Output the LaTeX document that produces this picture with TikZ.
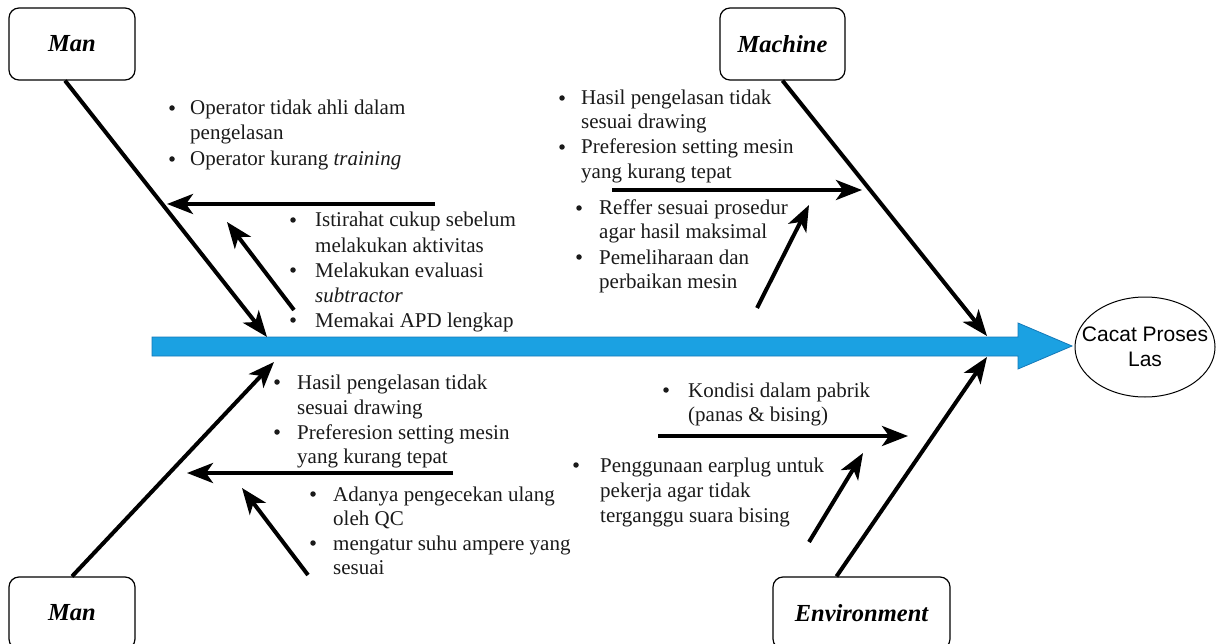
\documentclass[tikz,border=0pt]{standalone}
\usepackage{fontspec}
\setmainfont{Liberation Serif}
\newfontfamily\arialfont{Liberation Sans}
\usetikzlibrary{arrows.meta,shapes.geometric}
\definecolor{spineblue}{HTML}{1BA1E2}
\definecolor{spineedge}{HTML}{1479B8}
\definecolor{inkgray}{HTML}{1A1A1A}
\begin{document}
\begin{tikzpicture}[x=1pt,y=-1pt,
  catbox/.style={draw, rounded corners=10pt, line width=1.2pt, minimum height=72pt,
    inner sep=0pt, font=\fontsize{24.5}{28}\selectfont\bfseries\itshape},
  bone/.style={line width=4pt, -{Stealth[length=26pt,width=20pt,inset=7pt]}},
  subarrow/.style={line width=4pt, -{Stealth[length=26pt,width=20pt,inset=7pt]}},
  txt/.style={anchor=base west, inner sep=0pt, text=inkgray, font=\fontsize{21}{24.5}\selectfont},
  dot/.style={circle, fill=inkgray, inner sep=0pt, minimum size=5.5pt}]
\useasboundingbox (0,0) rectangle (1217,644);

% spine
\fill[spineblue, draw=spineedge, line width=0.8pt]
  (152,337) -- (1018,337) -- (1018,323) -- (1072,346) -- (1018,369) -- (1018,356) -- (152,356) -- cycle;

% effect
\node[draw, ellipse, line width=1pt, minimum width=140pt, minimum height=100pt, inner sep=0pt]
  (effect) at (1145,347) {};
\node[align=center, inner sep=0pt, font=\arialfont\fontsize{21}{25}\selectfont]
  (effectlabel) at (effect.center) {Cacat Proses\\Las};

% category boxes
\node[catbox, minimum width=126pt] (manT) at (72,44) {Man};
\node[catbox, minimum width=125pt] (mach) at (782.5,44) {Machine};
\node[catbox, minimum width=126pt] (manB) at (72,613) {Man};
\node[catbox, minimum width=177pt] (env) at (861.5,613) {Environment};

% junctions on spine
\coordinate (jManT) at (267,337);
\coordinate (jMach) at (987,336);
\coordinate (jManB) at (274,362);
\coordinate (jEnv) at (987,357);

% bones
\draw[bone] ([xshift=-7pt]manT.south) -- (jManT);
\draw[bone] (mach.south) -- (jMach);
\draw[bone] (manB.north) -- (jManB);
\draw[bone] ([xshift=-25pt]env.north) -- (jEnv);

% sub arrows
\coordinate (tlA) at (435,204); \coordinate (tlB) at (167,204);
\coordinate (tlC) at (294,310); \coordinate (tlD) at (227,222);
\coordinate (mA) at (612,190); \coordinate (mB) at (862,190);
\coordinate (mC) at (757,308); \coordinate (mD) at (809,205);
\coordinate (blA) at (453,473); \coordinate (blB) at (187,473);
\coordinate (blC) at (308,575); \coordinate (blD) at (242,488);
\coordinate (eA) at (658,436); \coordinate (eB) at (908,436);
\coordinate (eC) at (809,542); \coordinate (eD) at (863,453);
\draw[subarrow] (tlA) -- (tlB);
\draw[subarrow] (tlC) -- (tlD);
\draw[subarrow] (mA) -- (mB);
\draw[subarrow] (mC) -- (mD);
\draw[subarrow] (blA) -- (blB);
\draw[subarrow] (blC) -- (blD);
\draw[subarrow] (eA) -- (eB);
\draw[subarrow] (eC) -- (eD);

% ---- Man (top) texts
\node[dot] (d1) at (172,108) {};
\node[txt] (t1a) at (190,115) {Operator tidak ahli dalam};
\node[txt] (t1b) at (190,140) {pengelasan};
\node[dot] (d2) at (172,159) {};
\node[txt] (t2a) at (190,166) {Operator kurang \textit{training}};

\node[dot] (d3) at (293,220) {};
\node[txt] (t3a) at (315,227) {Istirahat cukup sebelum};
\node[txt] (t3b) at (315,252) {melakukan aktivitas};
\node[dot] (d4) at (293,270) {};
\node[txt] (t4a) at (315,277) {Melakukan evaluasi};
\node[txt] (t4b) at (315,302) {\textit{subtractor}};
\node[dot] (d5) at (293,320) {};
\node[txt] (t5a) at (315,327) {Memakai APD lengkap};

% ---- Machine texts
\node[dot] (d6) at (562,98) {};
\node[txt] (t6a) at (581,105) {Hasil pengelasan tidak};
\node[txt] (t6b) at (581,129) {sesuai drawing};
\node[dot] (d7) at (562,147) {};
\node[txt] (t7a) at (581,154) {Preferesion setting mesin};
\node[txt] (t7b) at (581,179) {yang kurang tepat};

\node[dot] (d8) at (579,208) {};
\node[txt] (t8a) at (599,215) {Reffer sesuai prosedur};
\node[txt] (t8b) at (599,239) {agar hasil maksimal};
\node[dot] (d9) at (579,257) {};
\node[txt] (t9a) at (599,264) {Pemeliharaan dan};
\node[txt] (t9b) at (599,288) {perbaikan mesin};

% ---- Man (bottom) texts
\node[dot] (d10) at (277,382) {};
\node[txt] (t10a) at (297,389) {Hasil pengelasan tidak};
\node[txt] (t10b) at (297,414) {sesuai drawing};
\node[dot] (d11) at (277,432) {};
\node[txt] (t11a) at (297,439) {Preferesion setting mesin};
\node[txt] (t11b) at (297,463) {yang kurang tepat};

\node[dot] (d12) at (313,494) {};
\node[txt] (t12a) at (333,501) {Adanya pengecekan ulang};
\node[txt] (t12b) at (333,525) {oleh QC};
\node[dot] (d13) at (313,543) {};
\node[txt] (t13a) at (333,550) {mengatur suhu ampere yang};
\node[txt] (t13b) at (333,574) {sesuai};

% ---- Environment texts
\node[dot] (d14) at (666,390) {};
\node[txt] (t14a) at (688,397) {Kondisi dalam pabrik};
\node[txt] (t14b) at (688,421) {(panas \& bising)};

\node[dot] (d15) at (576,465) {};
\node[txt] (t15a) at (600,472) {Penggunaan earplug untuk};
\node[txt] (t15b) at (600,497) {pekerja agar tidak};
\node[txt] (t15c) at (600,522) {terganggu suara bising};
\end{tikzpicture}
\end{document}
